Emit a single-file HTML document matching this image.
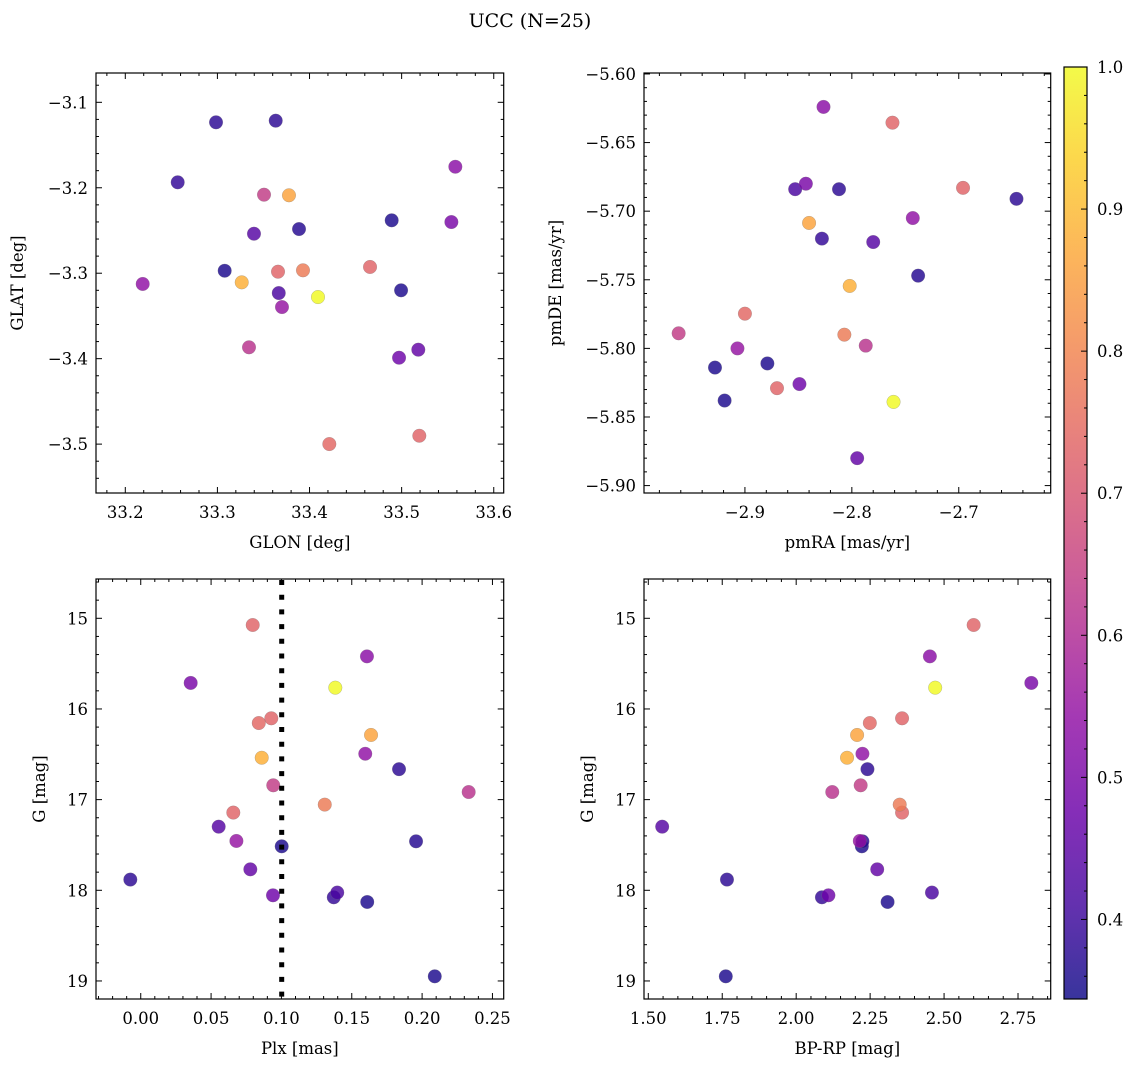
<!DOCTYPE html>
<html><head><meta charset="utf-8">
<style>
html,body{margin:0;padding:0;background:#fff;}
svg{display:block;font-family:"DejaVu Serif","Liberation Serif",serif;}
</style></head>
<body>
<svg id="fig" width="1136" height="1067" viewBox="0 0 1136 1067" xmlns="http://www.w3.org/2000/svg">
<text x="530" y="27" font-size="19" text-anchor="middle">UCC (N=25)</text>
</svg>
<script>
// ---- data (one entry per star) ----
const glon = [33.4092,33.3264,33.3777,33.3929,33.3658,33.4657,33.4215,33.5192,33.3506,33.3343,
  33.5583,33.554,33.2189,33.3701,33.4972,33.5181,33.3397,33.3666,33.2985,33.3633,33.2569,33.3886,33.4892,33.3079,33.4994];
const glat = [-3.3279,-3.3107,-3.2088,-3.2966,-3.2982,-3.2927,-3.4999,-3.4902,-3.2081,-3.3867,
  -3.1754,-3.2401,-3.3126,-3.3396,-3.3989,-3.3895,-3.2538,-3.3232,-3.1234,-3.1215,-3.1936,-3.2483,-3.2381,-3.2971,-3.32];
const pmra = [-2.761,-2.802,-2.840,-2.807,-2.762,-2.696,-2.900,-2.870,-2.962,-2.787,
  -2.8265,-2.843,-2.743,-2.907,-2.849,-2.795,-2.780,-2.853,-2.812,-2.646,-2.828,-2.738,-2.928,-2.879,-2.919];
const pmde = [-5.839,-5.7545,-5.7086,-5.790,-5.6355,-5.683,-5.7747,-5.829,-5.789,-5.798,
  -5.624,-5.680,-5.705,-5.800,-5.826,-5.880,-5.7225,-5.684,-5.684,-5.691,-5.720,-5.747,-5.814,-5.811,-5.838];
const plx = [0.1383,0.086,0.1637,0.1308,0.0796,0.0928,0.0839,0.0658,0.0942,0.2331,
  0.1608,0.0355,0.1596,0.068,0.094,0.0779,0.0554,0.1397,0.1836,-0.0074,0.1372,0.1957,0.1002,0.161,0.209];
const gmag = [15.765,16.538,16.287,17.055,15.074,16.103,16.155,17.143,16.842,16.916,
  15.42,15.713,16.494,17.456,18.055,17.769,17.298,18.025,16.664,17.882,18.077,17.46,17.515,18.129,18.949];
const bprp = [2.470,2.172,2.206,2.350,2.600,2.358,2.249,2.358,2.218,2.122,
  2.452,2.795,2.224,2.215,2.109,2.274,1.547,2.459,2.241,1.766,2.087,2.224,2.222,2.309,1.762];
const prob = [1.0,0.88,0.86,0.78,0.73,0.73,0.74,0.73,0.64,0.62,
  0.53,0.50,0.54,0.55,0.48,0.46,0.44,0.42,0.38,0.38,0.39,0.37,0.36,0.36,0.36];
const plxLine = 0.1002;
// tick labels
const tlXTicks = [33.2,33.3,33.4,33.5,33.6];
const tlYTicks = [-3.1,-3.2,-3.3,-3.4,-3.5];
const trXTicks = [-2.9,-2.8,-2.7];
const trYTicks = [-5.60,-5.65,-5.70,-5.75,-5.80,-5.85,-5.90];
const blXTicks = [0.00,0.05,0.10,0.15,0.20,0.25];
const gTicks = [15,16,17,18,19];
const brXTicks = [1.50,1.75,2.00,2.25,2.50,2.75];
const cbTicks = [0.4,0.5,0.6,0.7,0.8,0.9,1.0];
const vmin = 0.344, vmax = 1.0;

const NS = "http://www.w3.org/2000/svg";
const svg = document.getElementById('fig');
function el(tag, attrs, parent){const e=document.createElementNS(NS,tag);for(const k in attrs)e.setAttribute(k,attrs[k]);(parent||svg).appendChild(e);return e;}
const stops=[[0,[13,8,135]],[0.1,[65,4,157]],[0.2,[106,0,168]],[0.3,[143,13,164]],[0.4,[177,42,144]],[0.5,[204,71,120]],[0.6,[225,100,98]],[0.7,[242,132,75]],[0.8,[252,166,54]],[0.9,[252,206,37]],[1,[240,249,33]]];
function plasma(t){t=Math.max(0,Math.min(1,t));for(let i=1;i<stops.length;i++){if(t<=stops[i][0]){const a=stops[i-1],b=stops[i];const f=(t-a[0])/(b[0]-a[0]);const c=a[1].map((v,j)=>Math.round(v+(b[1][j]-v)*f));return `rgb(${c[0]},${c[1]},${c[2]})`;}}return 'rgb(240,249,33)';}
function minus(s){return s.replace('-','\u2212');}
const FS=16.5;

function panel(name, box, xd, yd, xt, yt, xMinor, yMinor, xdec, ydec, xlabel, ylabel, ylabX, xs, ys){
  const g=el('g',{});
  
  
  const X=v=>box.x0+(v-xd[0])/(xd[1]-xd[0])*(box.x1-box.x0);
  const Y=v=>box.y0+(v-yd[0])/(yd[1]-yd[0])*(box.y1-box.y0);
  const order=prob.map((p,i)=>i).sort((a,b)=>prob[a]-prob[b]);
  order.forEach(i=>{
    const c=el('circle',{cx:X(xs[i]),cy:Y(ys[i]),r:6.8,fill:plasma((prob[i]-vmin)/(vmax-vmin)),'fill-opacity':0.82,stroke:'#777','stroke-width':0.4,'stroke-opacity':0.6},g);
    
    
  });
  const lo=Math.min(...xd),hi=Math.max(...xd);
  for(let k=Math.ceil(lo/xMinor-1e-6);k*xMinor<=hi+1e-9;k++){const v=k*xMinor;const px=X(v);const maj=xt.some(t=>Math.abs(t-v)<xMinor/3);const L=maj?6:3;
    el('line',{x1:px,x2:px,y1:box.y1,y2:box.y1-L,stroke:'#000','stroke-width':1},g);el('line',{x1:px,x2:px,y1:box.y0,y2:box.y0+L,stroke:'#000','stroke-width':1},g);}
  const ylo=Math.min(...yd),yhi=Math.max(...yd);
  for(let k=Math.ceil(ylo/yMinor-1e-6);k*yMinor<=yhi+1e-9;k++){const v=k*yMinor;const py=Y(v);const maj=yt.some(t=>Math.abs(t-v)<yMinor/3);const L=maj?6:3;
    el('line',{x1:box.x0,x2:box.x0+L,y1:py,y2:py,stroke:'#000','stroke-width':1},g);el('line',{x1:box.x1,x2:box.x1-L,y1:py,y2:py,stroke:'#000','stroke-width':1},g);}
  xt.forEach(v=>{const t=el('text',{x:X(v),y:box.y1+25,'font-size':FS,'text-anchor':'middle'},g);t.textContent=minus(v.toFixed(xdec));
    
    });
  yt.forEach(v=>{const t=el('text',{x:box.x0-8,y:Y(v)+6,'font-size':FS,'text-anchor':'end'},g);t.textContent=minus(v.toFixed(ydec));
    
    });
  const xl=el('text',{x:(box.x0+box.x1)/2,y:box.y1+55,'font-size':FS,'text-anchor':'middle'},g);xl.textContent=xlabel;
  
  
  const cy=(box.y0+box.y1)/2;
  const yl=el('text',{x:ylabX,y:cy,'font-size':FS,'text-anchor':'middle',transform:`rotate(-90 ${ylabX} ${cy})`},g);yl.textContent=ylabel;
  
  
  el('rect',{x:box.x0,y:box.y0,width:box.x1-box.x0,height:box.y1-box.y0,fill:'none',stroke:'#000','stroke-width':1.2},g);
  return {g,X,Y};
}
panel('glon-glat-panel',{x0:96,x1:503.7,y0:73,y1:493},[33.1682,33.6108],[-3.0657,-3.5572],tlXTicks,tlYTicks,0.02,0.02,1,1,'GLON [deg]','GLAT [deg]',23,glon,glat);
panel('pm-panel',{x0:644,x1:1050.7,y0:73,y1:493},[-2.9944,-2.614],[-5.5993,-5.9054],trXTicks,trYTicks,0.02,0.01,1,2,'pmRA [mas/yr]','pmDE [mas/yr]',561,pmra,pmde);
const bl=panel('plx-g-panel',{x0:96,x1:503.7,y0:579,y1:999},[-0.0318,0.2580],[14.5666,19.199],blXTicks,gTicks,0.01,0.2,2,0,'Plx [mas]','G [mag]',45,plx,gmag);
panel('cmd-panel',{x0:644,x1:1050.7,y0:579,y1:999},[1.4855,2.8605],[14.5666,19.199],brXTicks,gTicks,0.05,0.2,2,0,'BP-RP [mag]','G [mag]',593,bprp,gmag);
const ln=el('line',{x1:bl.X(plxLine),x2:bl.X(plxLine),y1:580,y2:999,stroke:'#000','stroke-width':5,'stroke-dasharray':'5 9.7'},bl.g);



// colorbar
const cb={x0:1064,x1:1087,y0:67,y1:999};
const defs=el('defs',{});
const grad=el('linearGradient',{id:'cbg',x1:0,y1:1,x2:0,y2:0},defs);
for(let i=0;i<=20;i++){const t=i/20;el('stop',{offset:t,'stop-color':plasma(t),'stop-opacity':0.82},grad);}
const cbg=el('g',{});


el('rect',{x:cb.x0,y:cb.y0,width:cb.x1-cb.x0,height:cb.y1-cb.y0,fill:'url(#cbg)'},cbg);
const CY=v=>cb.y1-(v-vmin)/(vmax-vmin)*(cb.y1-cb.y0);
for(let k=Math.ceil(vmin/0.02);k*0.02<=vmax+1e-9;k++){const v=k*0.02;const maj=cbTicks.some(t=>Math.abs(t-v)<0.005);
  el('line',{x1:cb.x1,x2:cb.x1-(maj?6:3),y1:CY(v),y2:CY(v),stroke:'#000','stroke-width':1},cbg);}
cbTicks.forEach(v=>{const t=el('text',{x:cb.x1+10,y:CY(v)+6,'font-size':FS},cbg);t.textContent=v.toFixed(1);
  
  });
el('rect',{x:cb.x0,y:cb.y0,width:cb.x1-cb.x0,height:cb.y1-cb.y0,fill:'none',stroke:'#000','stroke-width':1.2},cbg);
</script>
</body></html>
